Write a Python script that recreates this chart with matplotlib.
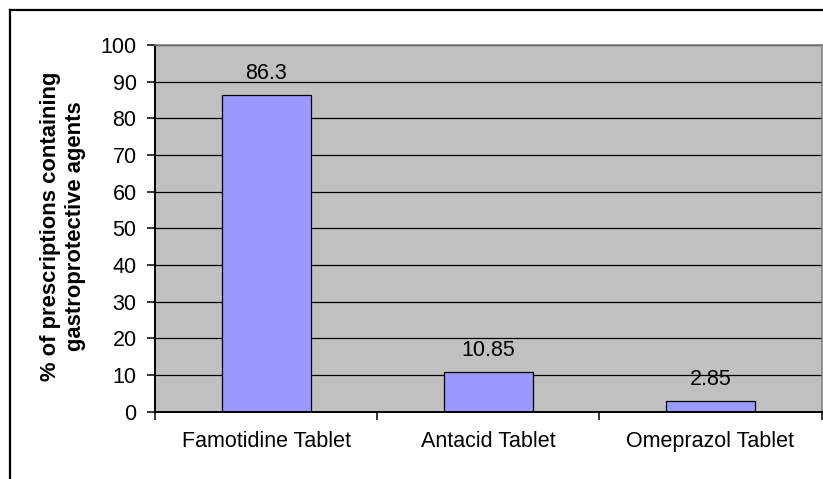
"""Bar chart of gastroprotective agents in prescriptions."""

import matplotlib
matplotlib.use("Agg")
import matplotlib.pyplot as plt
from matplotlib.lines import Line2D
import numpy as np

categories = ["Famotidine Tablet", "Antacid Tablet", "Omeprazol Tablet"]
percentages = [86.3, 10.85, 2.85]
value_labels = ["86.3", "10.85", "2.85"]
y_ticks = [0, 10, 20, 30, 40, 50, 60, 70, 80, 90, 100]

plt.rcParams["font.family"] = ["Liberation Sans", "DejaVu Sans"]

W, H = 823, 479
fig = plt.figure(figsize=(W / 100, H / 100), dpi=100)
ax = fig.add_axes([155 / W, 1 - 411.7 / H, (821.5 - 155) / W, (411.7 - 45) / H])

x = np.arange(len(categories))
ax.set_facecolor("#C0C0C0")
ax.set_axisbelow(True)
ax.yaxis.grid(True, color="black", linewidth=0.9)
ax.bar(x, percentages, width=0.4, color="#9999FF", edgecolor="black", linewidth=0.9)

for xi, v, lab in zip(x, percentages, value_labels):
    ax.annotate(lab, (xi, v), xytext=(0, 11.5), textcoords="offset points",
                ha="center", va="baseline", fontsize=15.5)

ax.set_xlim(-0.5, 2.5)
ax.set_ylim(0, 100)
ax.set_yticks(y_ticks)
ax.tick_params(axis="y", direction="out", length=5.8, width=1.1, pad=7.5,
               labelsize=15.5, color="black")
ax.set_xticks(x)
ax.set_xticklabels(categories)
ax.set_xticks(np.arange(-0.5, 3.0, 1.0), minor=True)
ax.tick_params(axis="x", which="major", length=0, pad=14, labelsize=15.5)
ax.tick_params(axis="x", which="minor", direction="out", length=5.8, width=1.1)

for side in ["left", "bottom"]:
    ax.spines[side].set_color("black")
    ax.spines[side].set_linewidth(1.4)
for side in ["top", "right"]:
    ax.spines[side].set_color("#808080")
    ax.spines[side].set_linewidth(1.2)

fig.text(63 / W, 1 - 226 / H,
         "% of prescriptions containing\ngastroprotective agents",
         rotation=90, ha="center", va="center", ma="center",
         fontsize=15.8, fontweight="bold", linespacing=1.3)

# outer chart frame (cropped on the right and bottom)
fig.add_artist(Line2D([9.5 / W, 1.0], [1 - 9.5 / H, 1 - 9.5 / H],
                      transform=fig.transFigure, color="black", linewidth=1.6))
fig.add_artist(Line2D([9.5 / W, 9.5 / W], [0.0, 1 - 9.5 / H],
                      transform=fig.transFigure, color="black", linewidth=1.6))

fig.savefig("out.png", dpi=100, facecolor="white")
plt.close(fig)
